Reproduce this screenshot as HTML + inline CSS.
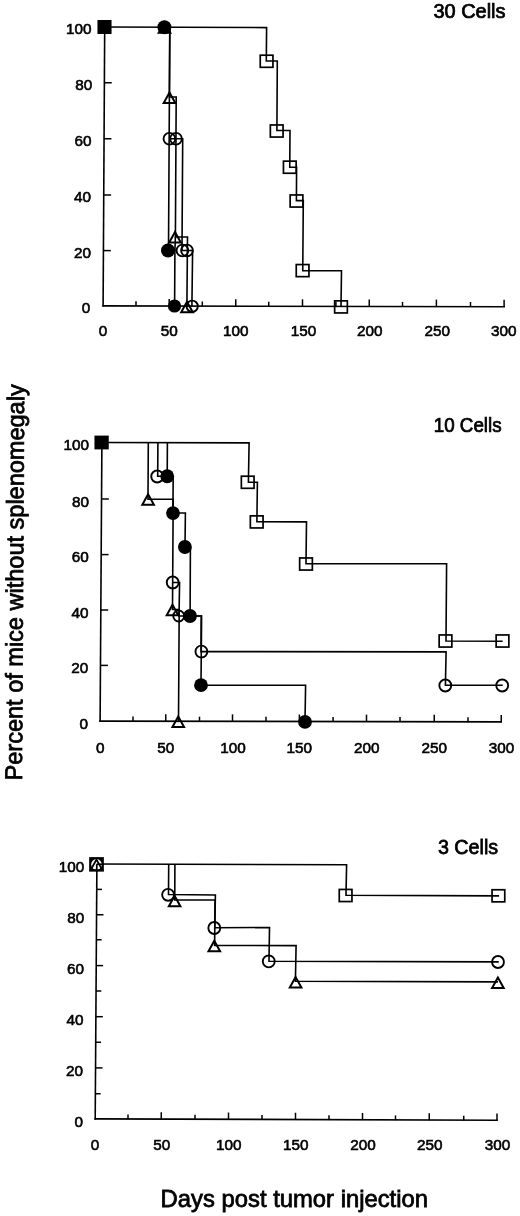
<!DOCTYPE html>
<html><head><meta charset="utf-8"><title>Percent of mice without splenomegaly</title>
<style>
html,body{margin:0;padding:0;background:#fff;}
body{width:520px;height:1216px;overflow:hidden;}
svg{display:block;}
svg text{font-family:"Liberation Sans",Arial,Helvetica,sans-serif;fill:#000;}
</style></head><body>
<svg width="520" height="1216" viewBox="0 0 520 1216">
<rect width="520" height="1216" fill="#fff"/>
<g id="panel-30-cells">
<line x1="104.70" y1="26.50" x2="103.10" y2="306.60" stroke="#000" stroke-width="1.6"/>
<line x1="102.30" y1="305.90" x2="504.95" y2="306.70" stroke="#000" stroke-width="1.6"/>
<line x1="104.37" y1="82.75" x2="111.77" y2="82.75" stroke="#000" stroke-width="1.5"/>
<line x1="104.05" y1="138.75" x2="111.45" y2="138.75" stroke="#000" stroke-width="1.5"/>
<line x1="103.73" y1="195.00" x2="111.13" y2="195.00" stroke="#000" stroke-width="1.5"/>
<line x1="103.42" y1="250.60" x2="110.82" y2="250.60" stroke="#000" stroke-width="1.5"/>
<line x1="136.00" y1="301.37" x2="136.00" y2="306.27" stroke="#000" stroke-width="1.5"/>
<line x1="169.20" y1="299.03" x2="169.20" y2="306.33" stroke="#000" stroke-width="1.5"/>
<line x1="202.30" y1="301.50" x2="202.30" y2="306.40" stroke="#000" stroke-width="1.5"/>
<line x1="235.75" y1="299.17" x2="235.75" y2="306.47" stroke="#000" stroke-width="1.5"/>
<line x1="268.75" y1="301.63" x2="268.75" y2="306.53" stroke="#000" stroke-width="1.5"/>
<line x1="302.50" y1="299.30" x2="302.50" y2="306.60" stroke="#000" stroke-width="1.5"/>
<line x1="335.90" y1="301.77" x2="335.90" y2="306.67" stroke="#000" stroke-width="1.5"/>
<line x1="369.25" y1="299.43" x2="369.25" y2="306.73" stroke="#000" stroke-width="1.5"/>
<line x1="402.50" y1="301.90" x2="402.50" y2="306.80" stroke="#000" stroke-width="1.5"/>
<line x1="436.40" y1="299.57" x2="436.40" y2="306.87" stroke="#000" stroke-width="1.5"/>
<line x1="470.50" y1="302.04" x2="470.50" y2="306.94" stroke="#000" stroke-width="1.5"/>
<line x1="504.10" y1="299.70" x2="504.10" y2="307.00" stroke="#000" stroke-width="1.5"/>
<text transform="translate(66.01,34.46) scale(1.0000,1.0000)" font-size="15.30" stroke="#000" stroke-width="0.6">100</text>
<text transform="translate(75.19,89.66) scale(1.0000,1.0000)" font-size="15.30" stroke="#000" stroke-width="0.6">80</text>
<text transform="translate(74.59,145.76) scale(1.0000,1.0000)" font-size="15.30" stroke="#000" stroke-width="0.6">60</text>
<text transform="translate(73.99,202.16) scale(1.0000,1.0000)" font-size="15.30" stroke="#000" stroke-width="0.6">40</text>
<text transform="translate(73.89,258.16) scale(1.0000,1.0000)" font-size="15.30" stroke="#000" stroke-width="0.6">20</text>
<text transform="translate(81.78,313.26) scale(1.0000,1.0000)" font-size="15.30" stroke="#000" stroke-width="0.6">0</text>
<text transform="translate(98.64,336.15) scale(1.0000,1.0000)" font-size="15.30" stroke="#000" stroke-width="0.6">0</text>
<text transform="translate(160.64,336.15) scale(1.0000,1.0000)" font-size="15.30" stroke="#000" stroke-width="0.6">50</text>
<text transform="translate(222.96,336.15) scale(1.0000,1.0000)" font-size="15.30" stroke="#000" stroke-width="0.6">100</text>
<text transform="translate(290.76,336.15) scale(1.0000,1.0000)" font-size="15.30" stroke="#000" stroke-width="0.6">150</text>
<text transform="translate(356.95,336.15) scale(1.0000,1.0000)" font-size="15.30" stroke="#000" stroke-width="0.6">200</text>
<text transform="translate(424.45,336.15) scale(1.0000,1.0000)" font-size="15.30" stroke="#000" stroke-width="0.6">250</text>
<text transform="translate(490.94,336.15) scale(1.0000,1.0000)" font-size="15.30" stroke="#000" stroke-width="0.6">300</text>
<text transform="translate(433.43,18.33) scale(1.0294,1)" font-size="19.39" stroke="#000" stroke-width="0.75">30 Cells</text>
<path d="M104.50,27.00 L266.60,27.60 L266.30,61.00 L277.30,61.00 L276.90,130.50 L290.00,130.50 L289.75,167.30 L296.60,167.30 L296.40,200.60 L303.30,200.60 L302.75,270.60 L341.50,270.70 L341.00,306.30" fill="none" stroke="#000" stroke-width="1.6" stroke-linejoin="miter" stroke-linecap="butt"/>
<rect x="260.25" y="55.20" width="12.70" height="12.10" fill="none" stroke="#000" stroke-width="1.7"/>
<rect x="270.35" y="124.95" width="12.70" height="12.10" fill="none" stroke="#000" stroke-width="1.7"/>
<rect x="283.45" y="161.15" width="12.70" height="12.10" fill="none" stroke="#000" stroke-width="1.7"/>
<rect x="290.15" y="194.95" width="12.70" height="12.10" fill="none" stroke="#000" stroke-width="1.7"/>
<rect x="296.25" y="264.55" width="12.70" height="12.10" fill="none" stroke="#000" stroke-width="1.7"/>
<rect x="334.65" y="300.85" width="12.70" height="12.10" fill="none" stroke="#000" stroke-width="1.7"/>
<path d="M164.40,27.30 L169.80,27.30 L168.50,250.50 L174.90,250.50 L174.60,306.00" fill="none" stroke="#000" stroke-width="1.6" stroke-linejoin="miter" stroke-linecap="butt"/>
<path d="M169.80,27.30 L169.40,97.00 L176.20,97.00 L175.40,237.00 L187.50,237.00 L186.90,306.00" fill="none" stroke="#000" stroke-width="1.6" stroke-linejoin="miter" stroke-linecap="butt"/>
<path d="M175.40,237.00 L174.90,251.00" fill="none" stroke="#000" stroke-width="1.6" stroke-linejoin="miter" stroke-linecap="butt"/>
<path d="M169.40,138.75 L182.70,138.75 L182.00,250.50 L192.60,250.50 L191.90,306.00" fill="none" stroke="#000" stroke-width="1.6" stroke-linejoin="miter" stroke-linecap="butt"/>
<path d="M164.50,22.31 L158.70,32.75 L170.30,32.75 Z" fill="none" stroke="#000" stroke-width="2.0" stroke-linejoin="miter"/>
<path d="M169.50,92.51 L163.70,102.95 L175.30,102.95 Z" fill="none" stroke="#000" stroke-width="2.0" stroke-linejoin="miter"/>
<path d="M175.00,232.11 L169.20,242.55 L180.80,242.55 Z" fill="none" stroke="#000" stroke-width="2.0" stroke-linejoin="miter"/>
<path d="M187.00,301.81 L181.20,312.25 L192.80,312.25 Z" fill="none" stroke="#000" stroke-width="2.0" stroke-linejoin="miter"/>
<circle cx="169.40" cy="138.75" r="5.85" fill="none" stroke="#000" stroke-width="1.9"/>
<circle cx="176.00" cy="138.75" r="5.85" fill="none" stroke="#000" stroke-width="1.9"/>
<circle cx="182.40" cy="250.50" r="5.85" fill="none" stroke="#000" stroke-width="1.9"/>
<circle cx="187.00" cy="250.50" r="5.85" fill="none" stroke="#000" stroke-width="1.9"/>
<circle cx="192.20" cy="306.25" r="5.65" fill="none" stroke="#000" stroke-width="1.9"/>
<circle cx="164.40" cy="27.30" r="7.00" fill="#000"/>
<circle cx="168.00" cy="250.50" r="7.00" fill="#000"/>
<circle cx="174.50" cy="306.00" r="6.60" fill="#000"/>
<rect x="97.45" y="20.00" width="14.10" height="14.00" fill="#000"/>
</g>
<g id="panel-10-cells">
<line x1="101.90" y1="442.00" x2="100.10" y2="721.90" stroke="#000" stroke-width="1.6"/>
<line x1="99.30" y1="721.10" x2="502.00" y2="721.90" stroke="#000" stroke-width="1.6"/>
<line x1="101.47" y1="499.00" x2="108.87" y2="499.00" stroke="#000" stroke-width="1.5"/>
<line x1="101.15" y1="554.60" x2="108.55" y2="554.60" stroke="#000" stroke-width="1.5"/>
<line x1="100.83" y1="610.00" x2="108.23" y2="610.00" stroke="#000" stroke-width="1.5"/>
<line x1="100.52" y1="665.40" x2="107.92" y2="665.40" stroke="#000" stroke-width="1.5"/>
<line x1="133.00" y1="716.57" x2="133.00" y2="721.47" stroke="#000" stroke-width="1.5"/>
<line x1="165.75" y1="714.23" x2="165.75" y2="721.53" stroke="#000" stroke-width="1.5"/>
<line x1="199.50" y1="716.70" x2="199.50" y2="721.60" stroke="#000" stroke-width="1.5"/>
<line x1="232.50" y1="714.37" x2="232.50" y2="721.67" stroke="#000" stroke-width="1.5"/>
<line x1="266.00" y1="716.83" x2="266.00" y2="721.73" stroke="#000" stroke-width="1.5"/>
<line x1="299.40" y1="714.50" x2="299.40" y2="721.80" stroke="#000" stroke-width="1.5"/>
<line x1="333.10" y1="716.97" x2="333.10" y2="721.87" stroke="#000" stroke-width="1.5"/>
<line x1="366.50" y1="714.63" x2="366.50" y2="721.93" stroke="#000" stroke-width="1.5"/>
<line x1="400.00" y1="717.10" x2="400.00" y2="722.00" stroke="#000" stroke-width="1.5"/>
<line x1="434.25" y1="714.77" x2="434.25" y2="722.07" stroke="#000" stroke-width="1.5"/>
<line x1="468.00" y1="717.24" x2="468.00" y2="722.14" stroke="#000" stroke-width="1.5"/>
<line x1="501.25" y1="714.90" x2="501.25" y2="722.20" stroke="#000" stroke-width="1.5"/>
<text transform="translate(63.51,450.06) scale(1.0000,1.0000)" font-size="15.30" stroke="#000" stroke-width="0.6">100</text>
<text transform="translate(72.04,506.66) scale(1.0000,1.0000)" font-size="15.30" stroke="#000" stroke-width="0.6">80</text>
<text transform="translate(71.79,562.46) scale(1.0000,1.0000)" font-size="15.30" stroke="#000" stroke-width="0.6">60</text>
<text transform="translate(71.39,617.96) scale(1.0000,1.0000)" font-size="15.30" stroke="#000" stroke-width="0.6">40</text>
<text transform="translate(71.19,673.06) scale(1.0000,1.0000)" font-size="15.30" stroke="#000" stroke-width="0.6">20</text>
<text transform="translate(79.53,729.16) scale(1.0000,1.0000)" font-size="15.30" stroke="#000" stroke-width="0.6">0</text>
<text transform="translate(96.04,752.85) scale(1.0000,1.0000)" font-size="15.30" stroke="#000" stroke-width="0.6">0</text>
<text transform="translate(157.14,752.85) scale(1.0000,1.0000)" font-size="15.30" stroke="#000" stroke-width="0.6">50</text>
<text transform="translate(220.26,752.85) scale(1.0000,1.0000)" font-size="15.30" stroke="#000" stroke-width="0.6">100</text>
<text transform="translate(286.46,752.85) scale(1.0000,1.0000)" font-size="15.30" stroke="#000" stroke-width="0.6">150</text>
<text transform="translate(354.05,752.85) scale(1.0000,1.0000)" font-size="15.30" stroke="#000" stroke-width="0.6">200</text>
<text transform="translate(421.45,752.85) scale(1.0000,1.0000)" font-size="15.30" stroke="#000" stroke-width="0.6">250</text>
<text transform="translate(488.64,752.85) scale(1.0000,1.0000)" font-size="15.30" stroke="#000" stroke-width="0.6">300</text>
<text transform="translate(433.77,432.43) scale(0.9683,1)" font-size="19.39" stroke="#000" stroke-width="0.75">10 Cells</text>
<path d="M101.60,442.50 L249.10,442.90 L248.40,482.25 L257.40,482.25 L256.90,521.60 L306.50,521.90 L306.00,563.75 L446.60,563.75 L446.00,641.00 L502.70,641.20" fill="none" stroke="#000" stroke-width="1.6" stroke-linejoin="miter" stroke-linecap="butt"/>
<rect x="241.35" y="476.20" width="12.70" height="12.10" fill="none" stroke="#000" stroke-width="1.7"/>
<rect x="250.35" y="515.85" width="12.70" height="12.10" fill="none" stroke="#000" stroke-width="1.7"/>
<rect x="299.65" y="557.95" width="12.70" height="12.10" fill="none" stroke="#000" stroke-width="1.7"/>
<rect x="439.15" y="634.95" width="12.70" height="12.10" fill="none" stroke="#000" stroke-width="1.7"/>
<rect x="496.15" y="634.95" width="12.70" height="12.10" fill="none" stroke="#000" stroke-width="1.7"/>
<path d="M148.30,442.60 L148.00,499.20 L173.20,499.20 L172.50,609.50 L179.20,609.50 L178.50,721.00" fill="none" stroke="#000" stroke-width="1.6" stroke-linejoin="miter" stroke-linecap="butt"/>
<path d="M167.40,442.60 L167.20,476.30 L173.20,476.30 L172.90,513.00 L185.40,513.00 L185.00,547.00 L190.40,547.00 L190.10,616.00 L201.60,616.00 L201.00,685.20 L305.60,685.25 L305.00,721.50" fill="none" stroke="#000" stroke-width="1.6" stroke-linejoin="miter" stroke-linecap="butt"/>
<path d="M157.90,442.60 L157.70,476.30 L173.10,476.30" fill="none" stroke="#000" stroke-width="1.6" stroke-linejoin="miter" stroke-linecap="butt"/>
<path d="M172.60,582.50 L179.60,582.50 L179.00,616.00 L201.20,616.00 L201.00,651.60 L446.10,651.90 L445.40,685.30 L502.70,685.25" fill="none" stroke="#000" stroke-width="1.6" stroke-linejoin="miter" stroke-linecap="butt"/>
<path d="M148.10,494.31 L142.30,504.75 L153.90,504.75 Z" fill="none" stroke="#000" stroke-width="2.0" stroke-linejoin="miter"/>
<path d="M172.50,604.81 L166.70,615.25 L178.30,615.25 Z" fill="none" stroke="#000" stroke-width="2.0" stroke-linejoin="miter"/>
<path d="M178.25,716.51 L172.45,726.95 L184.05,726.95 Z" fill="none" stroke="#000" stroke-width="2.0" stroke-linejoin="miter"/>
<circle cx="157.20" cy="476.50" r="5.95" fill="none" stroke="#000" stroke-width="1.9"/>
<circle cx="172.70" cy="582.50" r="5.95" fill="none" stroke="#000" stroke-width="1.9"/>
<circle cx="201.40" cy="651.60" r="5.95" fill="none" stroke="#000" stroke-width="1.9"/>
<circle cx="445.30" cy="685.50" r="5.95" fill="none" stroke="#000" stroke-width="1.9"/>
<circle cx="502.20" cy="685.50" r="5.95" fill="none" stroke="#000" stroke-width="1.9"/>
<circle cx="178.70" cy="616.00" r="5.45" fill="none" stroke="#000" stroke-width="1.9"/>
<circle cx="167.20" cy="476.25" r="6.90" fill="#000"/>
<circle cx="173.00" cy="513.10" r="6.90" fill="#000"/>
<circle cx="184.90" cy="547.00" r="6.90" fill="#000"/>
<circle cx="190.00" cy="616.00" r="6.90" fill="#000"/>
<circle cx="201.00" cy="685.20" r="6.90" fill="#000"/>
<circle cx="305.00" cy="721.90" r="6.90" fill="#000"/>
<rect x="94.45" y="435.60" width="14.30" height="13.80" fill="#000"/>
</g>
<g id="panel-3-cells">
<line x1="96.90" y1="863.50" x2="95.20" y2="1119.70" stroke="#000" stroke-width="1.6"/>
<line x1="94.40" y1="1118.90" x2="497.80" y2="1120.20" stroke="#000" stroke-width="1.6"/>
<line x1="96.67" y1="889.40" x2="101.97" y2="889.40" stroke="#000" stroke-width="1.5"/>
<line x1="96.50" y1="914.75" x2="103.50" y2="914.75" stroke="#000" stroke-width="1.5"/>
<line x1="96.34" y1="939.75" x2="101.64" y2="939.75" stroke="#000" stroke-width="1.5"/>
<line x1="96.18" y1="965.60" x2="103.18" y2="965.60" stroke="#000" stroke-width="1.5"/>
<line x1="96.02" y1="991.00" x2="101.32" y2="991.00" stroke="#000" stroke-width="1.5"/>
<line x1="95.85" y1="1016.70" x2="102.85" y2="1016.70" stroke="#000" stroke-width="1.5"/>
<line x1="95.69" y1="1042.25" x2="100.99" y2="1042.25" stroke="#000" stroke-width="1.5"/>
<line x1="95.52" y1="1067.90" x2="102.52" y2="1067.90" stroke="#000" stroke-width="1.5"/>
<line x1="95.36" y1="1093.75" x2="100.66" y2="1093.75" stroke="#000" stroke-width="1.5"/>
<line x1="128.00" y1="1114.61" x2="128.00" y2="1119.31" stroke="#000" stroke-width="1.5"/>
<line x1="161.25" y1="1112.31" x2="161.25" y2="1119.41" stroke="#000" stroke-width="1.5"/>
<line x1="195.00" y1="1114.82" x2="195.00" y2="1119.52" stroke="#000" stroke-width="1.5"/>
<line x1="228.50" y1="1112.53" x2="228.50" y2="1119.63" stroke="#000" stroke-width="1.5"/>
<line x1="262.00" y1="1115.04" x2="262.00" y2="1119.74" stroke="#000" stroke-width="1.5"/>
<line x1="295.50" y1="1112.74" x2="295.50" y2="1119.84" stroke="#000" stroke-width="1.5"/>
<line x1="329.00" y1="1115.25" x2="329.00" y2="1119.95" stroke="#000" stroke-width="1.5"/>
<line x1="362.50" y1="1112.96" x2="362.50" y2="1120.06" stroke="#000" stroke-width="1.5"/>
<line x1="395.50" y1="1115.46" x2="395.50" y2="1120.16" stroke="#000" stroke-width="1.5"/>
<line x1="429.25" y1="1113.17" x2="429.25" y2="1120.27" stroke="#000" stroke-width="1.5"/>
<line x1="463.75" y1="1115.68" x2="463.75" y2="1120.38" stroke="#000" stroke-width="1.5"/>
<line x1="497.00" y1="1113.39" x2="497.00" y2="1120.49" stroke="#000" stroke-width="1.5"/>
<text transform="translate(58.76,872.26) scale(1.0000,1.0000)" font-size="15.30" stroke="#000" stroke-width="0.6">100</text>
<text transform="translate(67.29,922.96) scale(1.0000,1.0000)" font-size="15.30" stroke="#000" stroke-width="0.6">80</text>
<text transform="translate(66.99,973.86) scale(1.0000,1.0000)" font-size="15.30" stroke="#000" stroke-width="0.6">60</text>
<text transform="translate(66.39,1024.76) scale(1.0000,1.0000)" font-size="15.30" stroke="#000" stroke-width="0.6">40</text>
<text transform="translate(66.04,1075.96) scale(1.0000,1.0000)" font-size="15.30" stroke="#000" stroke-width="0.6">20</text>
<text transform="translate(74.53,1127.01) scale(1.0000,1.0000)" font-size="15.30" stroke="#000" stroke-width="0.6">0</text>
<text transform="translate(90.84,1150.05) scale(1.0000,1.0000)" font-size="15.30" stroke="#000" stroke-width="0.6">0</text>
<text transform="translate(153.29,1150.05) scale(1.0000,1.0000)" font-size="15.30" stroke="#000" stroke-width="0.6">50</text>
<text transform="translate(216.06,1150.05) scale(1.0000,1.0000)" font-size="15.30" stroke="#000" stroke-width="0.6">100</text>
<text transform="translate(282.96,1150.05) scale(1.0000,1.0000)" font-size="15.30" stroke="#000" stroke-width="0.6">150</text>
<text transform="translate(350.15,1150.05) scale(1.0000,1.0000)" font-size="15.30" stroke="#000" stroke-width="0.6">200</text>
<text transform="translate(416.95,1150.05) scale(1.0000,1.0000)" font-size="15.30" stroke="#000" stroke-width="0.6">250</text>
<text transform="translate(484.64,1150.05) scale(1.0000,1.0000)" font-size="15.30" stroke="#000" stroke-width="0.6">300</text>
<text transform="translate(437.94,854.13) scale(0.9891,1)" font-size="19.93" stroke="#000" stroke-width="0.75">3 Cells</text>
<path d="M96.60,864.00 L346.60,864.75 L346.00,895.30 L499.00,895.90" fill="none" stroke="#000" stroke-width="1.6" stroke-linejoin="miter" stroke-linecap="butt"/>
<rect x="339.25" y="889.45" width="12.70" height="12.10" fill="none" stroke="#000" stroke-width="1.7"/>
<rect x="492.05" y="889.75" width="12.70" height="12.10" fill="none" stroke="#000" stroke-width="1.7"/>
<path d="M168.70,864.40 L168.50,894.50 L215.40,895.00 L214.75,927.80 L269.50,927.50 L269.00,961.30 L498.75,961.90" fill="none" stroke="#000" stroke-width="1.6" stroke-linejoin="miter" stroke-linecap="butt"/>
<path d="M174.90,864.40 L174.75,899.90 L215.10,900.00 L214.60,945.50 L296.10,945.60 L295.40,981.30 L498.00,981.90" fill="none" stroke="#000" stroke-width="1.6" stroke-linejoin="miter" stroke-linecap="butt"/>
<circle cx="168.10" cy="894.80" r="5.95" fill="none" stroke="#000" stroke-width="1.9"/>
<circle cx="214.30" cy="928.00" r="5.95" fill="none" stroke="#000" stroke-width="1.9"/>
<circle cx="268.75" cy="961.40" r="5.95" fill="none" stroke="#000" stroke-width="1.9"/>
<circle cx="498.00" cy="962.00" r="5.95" fill="none" stroke="#000" stroke-width="1.9"/>
<path d="M174.60,895.91 L168.80,906.35 L180.40,906.35 Z" fill="none" stroke="#000" stroke-width="2.0" stroke-linejoin="miter"/>
<path d="M214.30,940.81 L208.50,951.25 L220.10,951.25 Z" fill="none" stroke="#000" stroke-width="2.0" stroke-linejoin="miter"/>
<path d="M295.60,977.06 L289.80,987.50 L301.40,987.50 Z" fill="none" stroke="#000" stroke-width="2.0" stroke-linejoin="miter"/>
<path d="M497.90,977.51 L492.10,987.95 L503.70,987.95 Z" fill="none" stroke="#000" stroke-width="2.0" stroke-linejoin="miter"/>
<rect x="89.15" y="857.10" width="14.70" height="14.40" fill="#000"/>
<circle cx="96.5" cy="864.4" r="5.3" fill="#fff"/>
<path d="M96.50,859.50 L90.53,870.25 L102.47,870.25 Z" fill="none" stroke="#000" stroke-width="1.8" stroke-linejoin="miter"/>
<line x1="96.60" y1="864.20" x2="104.00" y2="864.20" stroke="#000" stroke-width="1.6"/>
<line x1="96.80" y1="864.20" x2="96.70" y2="872.00" stroke="#000" stroke-width="1.7"/>
</g>
<text transform="translate(21.95,780.44) rotate(-89.67) scale(1,1.03)" font-size="23.54" stroke="#000" stroke-width="0.75">Percent of mice without splenomegaly</text>
<text transform="translate(160.61,1207.35) scale(1.0361,1)" font-size="23.00" stroke="#000" stroke-width="0.75">Days post tumor injection</text>
</svg>
</body></html>
